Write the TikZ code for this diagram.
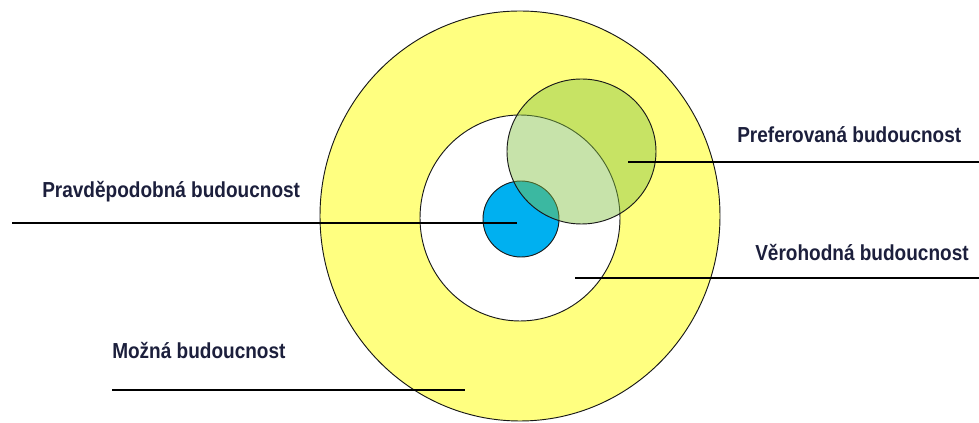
\documentclass[tikz,border=0pt]{standalone}
\usepackage{fontspec}
\setmainfont[FakeStretch=0.875]{Liberation Sans}
\usepackage{xcolor}
\usepackage{tikz}
\usetikzlibrary{positioning}
\definecolor{ring}{HTML}{FFFF80}
\definecolor{likely}{HTML}{00B0F0}
\definecolor{wish}{HTML}{85C343}
\definecolor{ink}{HTML}{1C1F3C}

\begin{document}
\begin{tikzpicture}[
  x=0.75pt, y=-0.75pt,
  lbl/.style={anchor=west, inner sep=0pt, text=ink, font=\fontsize{16.3}{18}\selectfont\bfseries},
  disc/.style={draw=black!90, line width=0.7pt},
  lead/.style={draw=black, line width=1.05pt}
]
\useasboundingbox (0,0) rectangle (979,423);
% circles
\filldraw[disc, fill=ring] (520,216) ellipse [x radius=200, y radius=205];
\filldraw[disc, fill=white] (520,218) ellipse [x radius=100, y radius=103];
\filldraw[disc, fill=likely] (521,219) circle [radius=38];
\filldraw[disc, fill=wish, fill opacity=0.45] (581.5,151.5) ellipse [x radius=74.5, y radius=72.5];
% labels
\node[lbl] (pravd) at (42,192) {Pravděpodobná budoucnost};
\node[lbl] (pref) at (737,135) {Preferovaná budoucnost};
\node[lbl] (vero) at (755,252) {Věrohodná budoucnost};
\node[lbl] (mozna) at (112,350) {Možná budoucnost};
% leader lines
\coordinate (pravdA) at (12,223);
\coordinate (pravdB) at (517,223);
\coordinate (prefA) at (628,162);
\coordinate (prefB) at (979,162);
\coordinate (veroA) at (575,278);
\coordinate (veroB) at (979,278);
\coordinate (moznaA) at (112,390);
\coordinate (moznaB) at (465,390);
\draw[lead] (pravdA) -- (pravdB);
\draw[lead] (prefA) -- (prefB);
\draw[lead] (veroA) -- (veroB);
\draw[lead] (moznaA) -- (moznaB);
\end{tikzpicture}
\end{document}
